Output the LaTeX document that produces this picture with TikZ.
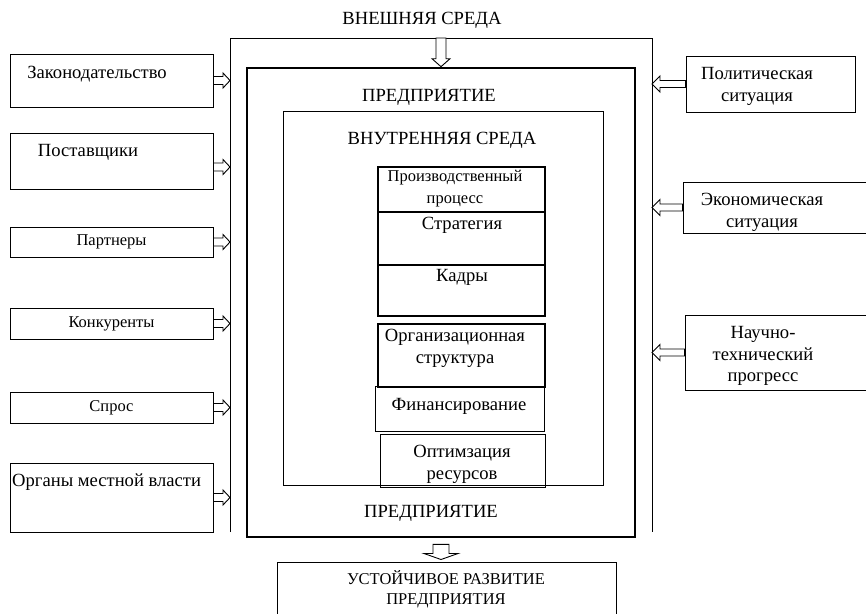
\documentclass[tikz,border=0pt]{standalone}
\usepackage{fontspec}
\setmainfont{Liberation Serif}
\usetikzlibrary{calc}

\tikzset{
  box/.style={draw, line width=1pt, inner sep=0pt},
  boldbox/.style={draw, line width=2pt, inner sep=0pt},
  big/.style={font=\fontsize{18.6}{22}\selectfont, align=center, inner sep=0pt},
  small/.style={font=\fontsize{16.5}{21.5}\selectfont, align=center, inner sep=0pt},
  blockarrow/.style n args={3}{draw, line width=0.9pt, fill=white, to path={
      (\tikztostart) coordinate (bs) (\tikztotarget) coordinate (bt)
      ($(bt)!#3!(bs)$) coordinate (ba)
      ($(bs)!#1!90:(bt)$) -- ($(ba)!#1!-90:(bs)$) -- ($(ba)!#2!-90:(bs)$) -- (bt)
      -- ($(ba)!#2!90:(bs)$) -- ($(ba)!#1!90:(bs)$) -- ($(bs)!#1!-90:(bt)$) -- cycle}}
}

\begin{document}
\begin{tikzpicture}[x=1pt,y=-1pt]
\useasboundingbox (0,0) rectangle (866,613);

% external environment
\node[big] (envT) at (422,20) {ВНЕШНЯЯ СРЕДА};
\draw[line width=1pt] (230,532) |- (652,38) -- (652,532);
\coordinate (envNW) at (230,38);
\coordinate (envNE) at (652,38);

% enterprise
\node[draw, line width=2.6pt, minimum width=388, minimum height=469] (ent) at (441,302.5) {};
\node[big] (entT) at (429,97) {ПРЕДПРИЯТИЕ};
\node[big] (entB) at (431,513) {ПРЕДПРИЯТИЕ};

% internal environment
\node[box, minimum width=320, minimum height=374] (inner) at (443,298) {};
\node[big] (innerT) at (442,140) {ВНУТРЕННЯЯ СРЕДА};

\node[boldbox, minimum width=167, minimum height=45] (prod) at (461.5,189.5) {};
\node[boldbox, minimum width=167, minimum height=53] (strat) at (461.5,238.5) {};
\node[boldbox, minimum width=167, minimum height=51] (kadr) at (461.5,290.5) {};
\node[boldbox, minimum width=167, minimum height=63] (orgs) at (461.5,355.5) {};
\node[box, minimum width=169, minimum height=45] (fin) at (459.5,408.5) {};
\node[box, minimum width=165, minimum height=53] (opt) at (462.5,460.5) {};
\node[small] (prodT) at (455,188.5) {Производственный\\процесс};
\node[big] (stratT) at (462,225) {Стратегия};
\node[big] (kadrT) at (462,277) {Кадры};
\node[big] (orgsT) at (455,348) {Организационная\\структура};
\node[big] (finT) at (459,406) {Финансирование};
\node[big] (optT) at (462,464) {Оптимзация\\ресурсов};

% factors on the left
\node[box, minimum width=203, minimum height=53] (zak) at (111.5,80.5) {};
\node[box, minimum width=203, minimum height=56] (post) at (111.5,161) {};
\node[box, small, minimum width=203, minimum height=30] (part) at (111.5,242) {Партнеры};
\node[box, small, minimum width=203, minimum height=31] (konk) at (111.5,323.5) {Конкуренты};
\node[box, small, minimum width=203, minimum height=31] (spros) at (111.5,407.5) {Спрос};
\node[box, minimum width=203, minimum height=69] (vlast) at (111.5,497.5) {};
\node[big] (zakT) at (97,74) {Законодательство};
\node[big] (postT) at (88,152) {Поставщики};
\node[big, anchor=west] (vlastT) at (12,482) {Органы местной власти};

% factors on the right
\node[box, minimum width=169, minimum height=56] (pol) at (770.5,84) {};
\node[box, minimum width=187, minimum height=51] (econ) at (776.5,207.5) {};
\node[box, minimum width=185, minimum height=75] (nauch) at (777.5,352.5) {};
\node[big] (polT) at (757,86) {Политическая\\ситуация};
\node[big] (econT) at (762,212.5) {Экономическая\\ситуация};
\node[big, font=\fontsize{18.6}{21.5}\selectfont] (nauchT) at (763,356) {Научно-\\технический\\прогресс};

% result
\node[box, minimum width=339, minimum height=68] (res) at (446.5,596) {};
\node[small, font=\fontsize{16.5}{20}\selectfont] (resT) at (446,589) {УСТОЙЧИВОЕ РАЗВИТИЕ\\ПРЕДПРИЯТИЯ};

% arrows
\coordinate (postA) at ($(post.east)+(0,6)$);
\draw[blockarrow={4pt}{7.5pt}{7pt}] (zak.east) to (zak.east -| envNW);
\draw[blockarrow={4pt}{7.5pt}{7pt}] (postA) to (postA -| envNW);
\draw[blockarrow={4pt}{7.5pt}{7pt}] (part.east) to (part.east -| envNW);
\draw[blockarrow={4pt}{7.5pt}{7pt}] (konk.east) to (konk.east -| envNW);
\draw[blockarrow={4pt}{7.5pt}{7pt}] (spros.east) to (spros.east -| envNW);
\draw[blockarrow={4pt}{7.5pt}{7pt}] (vlast.east) to (vlast.east -| envNW);
\draw[blockarrow={3.5pt}{8pt}{8pt}] (pol.west) to (pol.west -| envNE);
\draw[blockarrow={3.5pt}{8pt}{8pt}] (econ.west) to (econ.west -| envNE);
\draw[blockarrow={3.5pt}{8pt}{8pt}] (nauch.west) to (nauch.west -| envNE);
\draw[blockarrow={5pt}{9pt}{8pt}] (ent.north |- envNW) to (ent.north);
\coordinate (entS) at ($(ent.south)+(0,6)$);
\coordinate (resN) at ($(entS |- res.north)+(0,-2)$);
\draw[blockarrow={8pt}{17pt}{6pt}] (entS) to (resN);
\end{tikzpicture}
\end{document}
